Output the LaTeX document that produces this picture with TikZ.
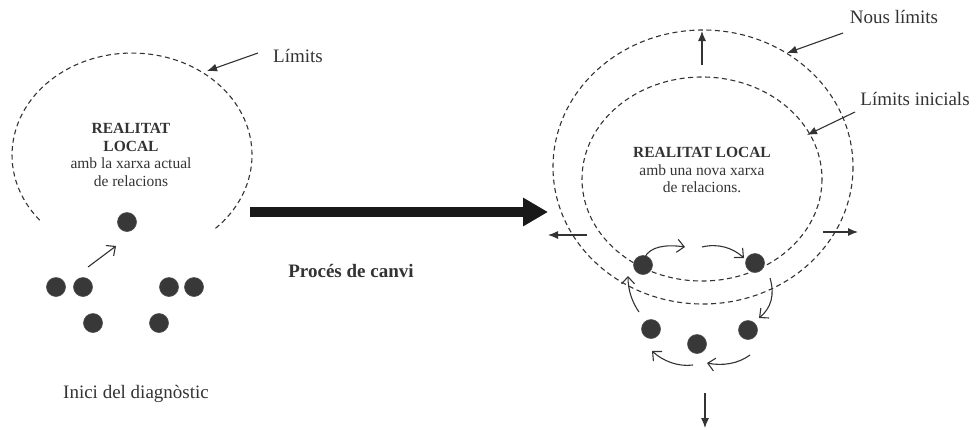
\documentclass[tikz,border=0pt]{standalone}
\usepackage{fontspec}
\setmainfont{Liberation Serif}
\usetikzlibrary{arrows.meta}
\definecolor{ink}{HTML}{333333}
\definecolor{dotc}{HTML}{383838}
\begin{document}
\begin{tikzpicture}[x=1pt,y=-1pt,
  bound/.style={dash pattern=on 5pt off 3.5pt, line width=1.1pt, draw=ink},
  agent/.style={circle, fill=dotc, draw=gray!60!black, line width=0.6pt, minimum size=19pt, inner sep=0pt},
  lbl/.style={font=\fontsize{19}{22}\selectfont, text=ink, anchor=base},
  inside/.style={font=\fontsize{15.5}{17.8}\selectfont, text=ink, align=center},
  ptr/.style={-{Latex[length=10pt,width=8pt]}, line width=1.1pt, draw=ink},
  flow/.style={-{Straight Barb[length=7pt,width=13pt]}, line width=1.1pt, draw=ink},
  bigarrow/.style={-{Triangle[length=25pt,width=27pt]}, line width=9.5pt, draw=black!90}]
\useasboundingbox (0,0) rectangle (976,429);

% ---------- left: initial situation ----------
\coordinate (lc) at (132,155);
\draw[bound] (39.7,220.2) arc[start angle=140.3,end angle=406.1,x radius=120,y radius=102];
\node[inside] (ltext) at (131,155) {\textbf{REALITAT}\\\textbf{LOCAL}\\amb la xarxa actual\\de relacions};
\node[lbl] (llim) at (298,62) {Límits};
\coordinate (llimA) at (258,53);
\coordinate (llimB) at (207,71);
\draw[ptr] (llimA) -- (llimB);

\node[agent] (a0) at (127,222) {};
\node[agent] (a1) at (56,287) {};
\node[agent] (a2) at (83,287) {};
\node[agent] (a3) at (169,287) {};
\node[agent] (a4) at (194,287) {};
\node[agent] (a5) at (93,323) {};
\node[agent] (a6) at (159,323) {};
\coordinate (s1) at (88,267);
\coordinate (s2) at (116,246);
\draw[flow] (s1) -- (s2);

\node[lbl] (inici) at (136,398) {Inici del diagnòstic};

% ---------- middle: process ----------
\coordinate (pA) at (250,212);
\coordinate (pB) at (548,212);
\draw[bigarrow] (pA) -- (pB);
\node[lbl] (proc) at (351,277) {\textbf{Procés de canvi}};

% ---------- right: new situation ----------
\draw[bound] (703,167) ellipse[x radius=150,y radius=137];
\draw[bound] (702,179) ellipse[x radius=120,y radius=102];
\node[inside] (rtext) at (702,170) {\textbf{REALITAT LOCAL}\\amb una nova xarxa\\de relacions.};

\node[lbl] (nous) at (894,23) {Nous límits};
\coordinate (nA) at (843,33);
\coordinate (nB) at (787,53);
\draw[ptr] (nA) -- (nB);
\node[lbl] (inic) at (915,105) {Límits inicials};
\coordinate (iA) at (855,112);
\coordinate (iB) at (807,135);
\draw[ptr] (iA) -- (iB);

% expansion arrows
\coordinate (uA) at (702,65);  \coordinate (uB) at (702,31);
\coordinate (lA) at (587,235); \coordinate (lB) at (548,235);
\coordinate (rA) at (823,232); \coordinate (rB) at (858,232);
\coordinate (dA) at (705,393); \coordinate (dB) at (705,428);
\draw[ptr] (uA) -- (uB);
\draw[ptr] (lA) -- (lB);
\draw[ptr] (rA) -- (rB);
\draw[ptr] (dA) -- (dB);

% agents
\node[agent] (b1) at (643,265) {};
\node[agent] (b2) at (755,263) {};
\node[agent] (b3) at (651,329) {};
\node[agent] (b4) at (697,344) {};
\node[agent] (b5) at (748,330) {};

% circulation arrows
\coordinate (c1a) at (645,257); \coordinate (c1b) at (685,247);
\coordinate (c2a) at (702,247); \coordinate (c2b) at (744,258);
\coordinate (c3a) at (770,278); \coordinate (c3b) at (759,318);
\coordinate (c4a) at (750,355); \coordinate (c4b) at (707,363);
\coordinate (c5a) at (693,365); \coordinate (c5b) at (652,351);
\coordinate (c6a) at (639,312); \coordinate (c6b) at (628,276);
\draw[flow] (c1a) .. controls (650,247) and (665,244) .. (c1b);
\draw[flow] (c2a) .. controls (718,243) and (733,248) .. (c2b);
\draw[flow] (c3a) .. controls (775,295) and (771,308) .. (c3b);
\draw[flow] (c4a) .. controls (738,364) and (722,366) .. (c4b);
\draw[flow] (c5a) .. controls (678,367) and (663,361) .. (c5b);
\draw[flow] (c6a) .. controls (632,302) and (628,290) .. (c6b);
\end{tikzpicture}
\end{document}
